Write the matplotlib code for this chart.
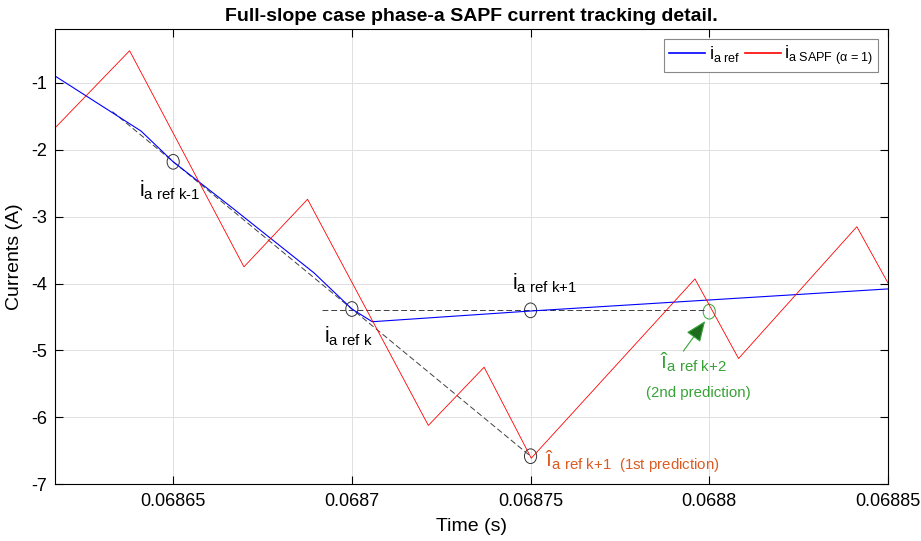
import matplotlib
matplotlib.use("Agg")
import matplotlib.pyplot as plt
from matplotlib.patches import Ellipse

plt.rcParams['font.family'] = 'Liberation Sans'
plt.rcParams['mathtext.fontset'] = 'custom'
plt.rcParams['mathtext.rm'] = 'Liberation Sans'
plt.rcParams['mathtext.default'] = 'regular'
plt.rcParams['axes.unicode_minus'] = False

# reference current (sampled)
t_ref = [0.068617, 0.068641, 0.06865, 0.0686661, 0.0686894, 0.0687, 0.0687057, 0.06875, 0.06885]
i_ref = [-0.90, -1.72, -2.18, -2.85, -3.84, -4.38, -4.57, -4.41, -4.08]

# SAPF injected current, alpha = 1
t_sapf = [0.068617, 0.0686378, 0.0686698, 0.0686876, 0.0687214, 0.068737,
          0.0687502, 0.068796, 0.0688082, 0.0688413, 0.06885]
i_sapf = [-1.67, -0.52, -3.75, -2.74, -6.12, -5.25, -6.61, -3.93, -5.12, -3.15, -3.99]

# sampling instants k-1, k, k+1 and the two predictions
t_samp = [0.06865, 0.0687, 0.06875]
i_samp = [-2.18, -4.38, -4.40]
t_pred1, i_pred1 = 0.06875, -6.58
t_pred2, i_pred2 = 0.0688, -4.42

# extrapolation guides
t_guide1 = [0.068633, 0.06875]
i_guide1 = [-1.43, -6.58]
t_guide2 = [0.0686917, 0.0687987]
i_guide2 = [-4.40, -4.40]

xticks = [0.06865, 0.0687, 0.06875, 0.0688, 0.06885]
xtick_labels = ['0.06865', '0.0687', '0.06875', '0.0688', '0.06885']
yticks = [-7, -6, -5, -4, -3, -2, -1]

orange = '#DD5A22'
green = '#36a336'

fig = plt.figure(figsize=(9.21, 5.41), dpi=100)
ax = fig.add_axes([0.0600, 0.1048, 0.9041, 0.8410])

ax.plot(t_guide1, i_guide1, color='#404040', lw=0.7, dashes=(6, 3))
ax.plot(t_guide2, i_guide2, color='#404040', lw=0.7, dashes=(6, 3))
ax.plot(t_ref, i_ref, color='blue', lw=0.8, label=r'$i_{\text{a ref}}$')
ax.plot(t_sapf, i_sapf, color='red', lw=0.6, label=r'$i_{\text{a SAPF (α = 1)}}$')

w, h = 3.4e-6, 0.22
for t, v in zip(t_samp + [t_pred1], i_samp + [i_pred1]):
    ax.add_patch(Ellipse((t, v), w, h, fill=False, ec='#333333', lw=0.7))
ax.add_patch(Ellipse((t_pred2, i_pred2), w, h, fill=False, ec=green, lw=0.7))

fs = 15.5
ax.text(0.0686404, -2.69, r'$i_{\text{a ref k-1}}$', fontsize=fs)
ax.text(0.0686922, -4.88, r'$i_{\text{a ref k}}$', fontsize=fs)
ax.text(0.0687448, -4.09, r'$i_{\text{a ref k+1}}$', fontsize=fs)
ax.text(0.0687541, -6.73, r'$î_{\text{a ref k+1  (1st prediction)}}$', fontsize=fs, color=orange)
ax.text(0.0687862, -5.27, r'$î_{\text{a ref k+2}}$', fontsize=fs, color=green)
ax.text(0.0687823, -5.69, '(2nd prediction)', fontsize=10.8, color=green)

ax.annotate('', xy=(0.0687993, -4.527), xytext=(0.0687923, -5.043),
            arrowprops=dict(arrowstyle='-|>,head_length=0.85,head_width=0.35',
                            fc='#1e6b1e', ec=green, lw=0.8, mutation_scale=15))

ax.set_xlim(0.068617, 0.06885)
ax.set_ylim(-7, -0.2)
ax.set_xticks(xticks)
ax.set_xticklabels(xtick_labels)
ax.set_yticks(yticks)
ax.tick_params(direction='in', length=6, width=0.8, labelsize=13, top=True, right=True, pad=6)
ax.grid(True, color='#e0e0e0', lw=0.7)
ax.set_axisbelow(True)
for s in ax.spines.values():
    s.set_linewidth(0.8)

ax.set_title('Full-slope case phase-a SAPF current tracking detail.', fontsize=14, fontweight='bold', pad=6)
ax.set_xlabel('Time (s)', fontsize=14, labelpad=6)
ax.set_ylabel('Currents (A)', fontsize=14, labelpad=6)

leg = ax.legend(loc='upper right', bbox_to_anchor=(0.9884, 0.978), borderaxespad=0, ncol=2,
                fontsize=13, handlelength=2.0, handletextpad=0.2, columnspacing=0.25,
                fancybox=False, framealpha=1, edgecolor='#888888', borderpad=0.25)
leg.get_frame().set_linewidth(0.8)
for line in leg.get_lines():
    line.set_linewidth(1.2)

fig.savefig('out.png', dpi=100)
